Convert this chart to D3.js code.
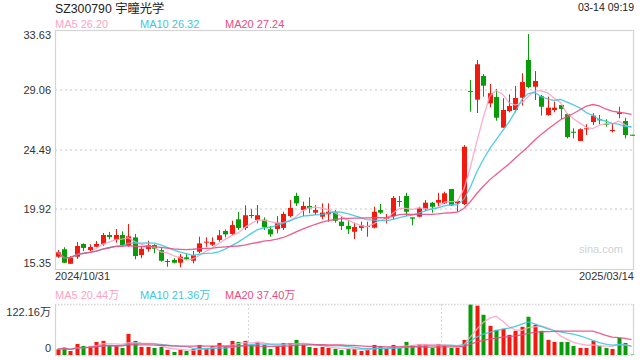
<!DOCTYPE html>
<html><head><meta charset="utf-8">
<script src="https://cdn.jsdelivr.net/npm/d3@7"></script>
<style>
html,body{margin:0;padding:0;background:#fff;}
svg{display:block;font-family:"Liberation Sans",Arial,"Noto Sans CJK SC",sans-serif;}
</style></head>
<body><svg id="c" width="640" height="360"></svg>
<script>
const title = "SZ300790 宇瞳光学";
const stamp = "03-14 09:19";
const dateLabels = ["2024/10/31", "2025/03/14"];
const priceTicks = [15.35, 19.92, 24.49, 29.06, 33.63];
const volTickLabels = ["0", "122.16万"];
const volMax = 122.16;
const maLegend = ["MA5 26.20", "MA10 26.32", "MA20 27.24"];
const volLegend = ["MA5 20.44万", "MA10 21.36万", "MA20 37.40万"];

const open = [16.29,16.86,15.75,16.29,17.26,16.80,17.05,17.24,17.95,17.57,
17.95,17.11,17.77,16.42,16.88,17.18,16.80,15.91,16.04,15.83,
16.24,15.98,16.67,17.39,17.21,17.57,18.26,18.03,19.15,18.49,
19.48,19.10,19.12,18.39,18.41,18.49,19.40,20.93,19.86,20.17,
19.66,19.35,19.53,19.66,18.97,18.64,18.20,18.49,18.59,18.51,
19.86,19.20,19.40,20.55,20.93,19.30,19.35,19.92,20.42,20.42,
20.37,21.47,20.37,20.32,28.96,28.30,30.11,28.02,28.51,26.16,
27.43,27.51,28.45,31.34,29.29,28.56,27.13,27.51,27.89,27.20,
25.85,25.14,26.04,26.59,26.80,26.46,25.90,27.34,26.67,25.62];
const close = [16.63,15.83,16.21,17.11,16.96,17.03,17.26,17.95,17.80,17.95,
17.18,17.85,16.34,16.90,17.18,16.90,15.98,15.96,15.83,16.29,
16.11,16.40,17.31,17.44,17.41,17.93,18.00,18.71,18.49,19.46,
19.43,19.46,18.54,18.00,18.89,19.56,20.02,20.37,20.17,19.99,
19.86,19.66,19.73,19.04,18.64,18.39,18.56,18.69,18.64,19.73,
19.66,19.28,20.78,20.50,19.73,19.20,19.99,20.42,20.11,20.63,
21.14,20.22,20.55,24.70,28.91,31.01,29.37,28.79,26.92,27.51,
27.82,28.43,29.65,29.27,29.73,27.76,27.69,27.69,27.59,25.44,
25.77,26.04,26.11,27.08,26.72,26.39,25.98,27.20,25.60,25.57];
const high = [16.80,17.01,16.34,17.41,17.31,17.24,17.49,18.10,18.18,18.41,
18.23,18.79,18.03,17.05,17.51,17.24,17.03,16.11,16.17,16.50,
16.50,16.73,17.82,17.77,17.77,18.33,18.38,19.04,19.71,20.22,
19.92,20.24,19.30,18.64,19.40,19.73,20.63,21.18,20.50,20.83,
20.24,20.37,20.37,19.86,19.35,19.10,18.89,18.97,18.97,20.12,
20.32,19.56,20.93,20.93,21.18,19.30,20.12,20.63,20.47,21.18,
21.26,21.47,20.63,24.83,29.81,31.34,30.27,29.50,29.12,28.41,
28.71,29.35,30.32,33.32,30.49,28.66,28.53,28.15,27.89,27.26,
26.11,26.11,26.42,27.26,27.13,26.80,26.44,27.76,26.92,25.62];
const low = [16.21,15.80,15.73,16.11,16.72,16.72,17.03,17.13,17.62,17.36,
17.13,17.05,16.09,16.17,16.67,16.55,15.91,15.52,15.78,15.48,
16.04,15.78,16.55,17.05,17.11,17.44,17.77,17.95,18.33,18.33,
19.23,18.84,18.33,17.82,18.08,18.33,19.30,20.17,19.40,19.61,
19.48,19.15,18.97,18.89,18.33,18.03,17.64,18.28,17.82,18.46,
19.56,18.84,19.10,20.11,19.40,18.69,19.30,19.81,19.66,20.17,
20.32,20.17,19.73,20.24,27.38,27.28,28.53,27.72,26.69,26.16,
27.34,27.34,27.84,29.17,28.28,27.08,27.08,27.34,26.82,25.34,
25.34,25.14,25.60,26.36,26.42,26.23,25.80,26.88,25.34,25.57];
const volume = [13.7,17.7,9.6,26.5,21.7,21.7,31.3,33.8,24.1,21.7,
16.9,50.6,33.8,19.3,19.3,16.9,19.3,12.1,7.2,12.1,
9.6,14.5,24.1,14.5,21.7,28.9,19.3,33.8,31.3,33.8,
24.1,31.3,24.1,14.5,21.7,28.9,28.9,36.2,24.1,19.3,
16.9,19.3,16.9,14.5,12.1,14.5,14.5,9.6,12.1,24.1,
21.7,14.5,24.1,16.9,31.3,24.1,26.5,26.5,16.9,26.5,
24.1,16.9,16.9,36.2,120.6,118.1,96.4,69.9,60.3,62.7,
48.2,57.9,67.5,91.6,72.3,57.9,36.2,31.3,31.3,31.3,
21.7,16.9,16.9,33.8,21.7,16.9,14.5,41.0,28.9,0.9];
const maPeriods = [5, 10, 20];

const UP = "#f2190f", DOWN = "#089c08";
const MA_COLORS = ["#ffa3c2", "#3cc8e0", "#ec4b80"];
const GRID = "#e2e2e2", BORDER = "#d4d4d4";

const svg = d3.select("#c");
const L = 55, R = 634, T = 30, B = 269;
const VT = 304, VB = 355;
const idx = d3.range(open.length);

const x = d3.scalePoint().domain(idx).range([57.5, 631.5]);
const y = d3.scaleLinear().domain([priceTicks[0], priceTicks[priceTicks.length-1]]).range([B, T]);
const yv = d3.scaleLinear().domain([0, volMax]).range([VB, VT]);

function ma(arr, n) {
  return arr.map((_, i) => {
    const s = arr.slice(Math.max(0, i - n + 1), i + 1);
    return d3.mean(s);
  });
}

// header
svg.append("text").attr("x", L).attr("y", 13).attr("font-size", 12.3).attr("fill", "#222").text(title);
svg.append("text").attr("x", R).attr("y", 11).attr("text-anchor", "end").attr("font-size", 10.5).attr("fill", "#222").text(stamp);

// legends
const legX = [L, 140, 225];
maLegend.forEach((t, i) => svg.append("text").attr("x", legX[i]).attr("y", 28).attr("font-size", 11).attr("fill", MA_COLORS[i]).text(t));
volLegend.forEach((t, i) => svg.append("text").attr("x", legX[i]).attr("y", 299).attr("font-size", 11).attr("fill", MA_COLORS[i]).text(t));

// main grid
svg.append("g").selectAll("line").data(priceTicks.slice(1, -1)).join("line")
  .attr("x1", L).attr("x2", R).attr("y1", d => Math.round(y(d))).attr("y2", d => Math.round(y(d)))
  .attr("stroke", GRID).attr("stroke-width", 2).attr("stroke-dasharray", "2,3");

// watermark
svg.append("text").attr("x", 623).attr("y", 253).attr("text-anchor", "end").attr("font-size", 11).attr("fill", "#d2d2d2").text("sina.com");

// main border
svg.append("rect").attr("x", L + 0.5).attr("y", T + 0.5).attr("width", R - L - 1).attr("height", B - T)
  .attr("fill", "none").attr("stroke", BORDER).attr("stroke-width", 1.2);

// price labels
svg.append("g").selectAll("text").data(priceTicks).join("text")
  .attr("x", 51).attr("text-anchor", "end").attr("font-size", 11).attr("fill", "#333")
  .attr("y", (d, i) => y(d) + (i === priceTicks.length - 1 ? 9 : i === 0 ? -2 : 4))
  .text(d => d.toFixed(2));

// date labels
svg.append("text").attr("x", L).attr("y", 280).attr("font-size", 11).attr("fill", "#333").text(dateLabels[0]);
svg.append("text").attr("x", R).attr("y", 280).attr("text-anchor", "end").attr("font-size", 11).attr("fill", "#333").text(dateLabels[1]);

// candles
const cg = svg.append("g");
idx.forEach(i => {
  const up = close[i] >= open[i];
  const col = up ? UP : DOWN;
  const cx = Math.round(x(i)) + 0.5;
  cg.append("line").attr("x1", cx).attr("x2", cx).attr("y1", y(high[i])).attr("y2", y(low[i]))
    .attr("stroke", col).attr("stroke-width", 1);
  const top = y(Math.max(open[i], close[i])), bot = y(Math.min(open[i], close[i]));
  cg.append("rect").attr("x", cx - 2.5).attr("width", 5).attr("y", top).attr("height", Math.max(1, bot - top))
    .attr("fill", col);
});

// price MA lines
maPeriods.forEach((n, k) => {
  const m = ma(close, n);
  svg.append("path").datum(m)
    .attr("d", d3.line().x((d, i) => x(i)).y(d => y(d)))
    .attr("fill", "none").attr("stroke", MA_COLORS[k]).attr("stroke-width", 1.3).attr("opacity", 0.9);
});

// volume panel grid
svg.append("g").selectAll("line").data([VT, VB]).join("line")
  .attr("x1", L).attr("x2", R).attr("y1", d => d + 0.5).attr("y2", d => d + 0.5)
  .attr("stroke", "#d8d8d8").attr("stroke-width", 1.5).attr("stroke-dasharray", "1.5,1.5");
svg.append("g").selectAll("line").data([1, 2]).join("line")
  .attr("x1", d => Math.round(L + (R - L) * d / 3) + 0.5).attr("x2", d => Math.round(L + (R - L) * d / 3) + 0.5)
  .attr("y1", VT).attr("y2", VB)
  .attr("stroke", "#d8d8d8").attr("stroke-width", 1).attr("stroke-dasharray", "2,2");
svg.append("g").selectAll("line").data([L + 0.5, R - 0.5]).join("line")
  .attr("x1", d => d).attr("x2", d => d).attr("y1", VT).attr("y2", VB)
  .attr("stroke", BORDER).attr("stroke-width", 1.2);

// volume labels
svg.append("text").attr("x", 51).attr("y", 316).attr("text-anchor", "end").attr("font-size", 11).attr("fill", "#333").text(volTickLabels[1]);
svg.append("text").attr("x", 51).attr("y", 352).attr("text-anchor", "end").attr("font-size", 11).attr("fill", "#333").text(volTickLabels[0]);

// volume bars
svg.append("g").selectAll("rect").data(idx).join("rect")
  .attr("x", i => Math.round(x(i)) - 1.5).attr("width", 4)
  .attr("y", i => yv(volume[i])).attr("height", i => VB - yv(volume[i]))
  .attr("fill", i => close[i] >= open[i] ? UP : DOWN);

// volume MA lines
maPeriods.forEach((n, k) => {
  const m = ma(volume, n);
  svg.append("path").datum(m)
    .attr("d", d3.line().x((d, i) => x(i)).y(d => yv(d)))
    .attr("fill", "none").attr("stroke", MA_COLORS[k]).attr("stroke-width", 1.3).attr("opacity", 0.9);
});
</script></body></html>
